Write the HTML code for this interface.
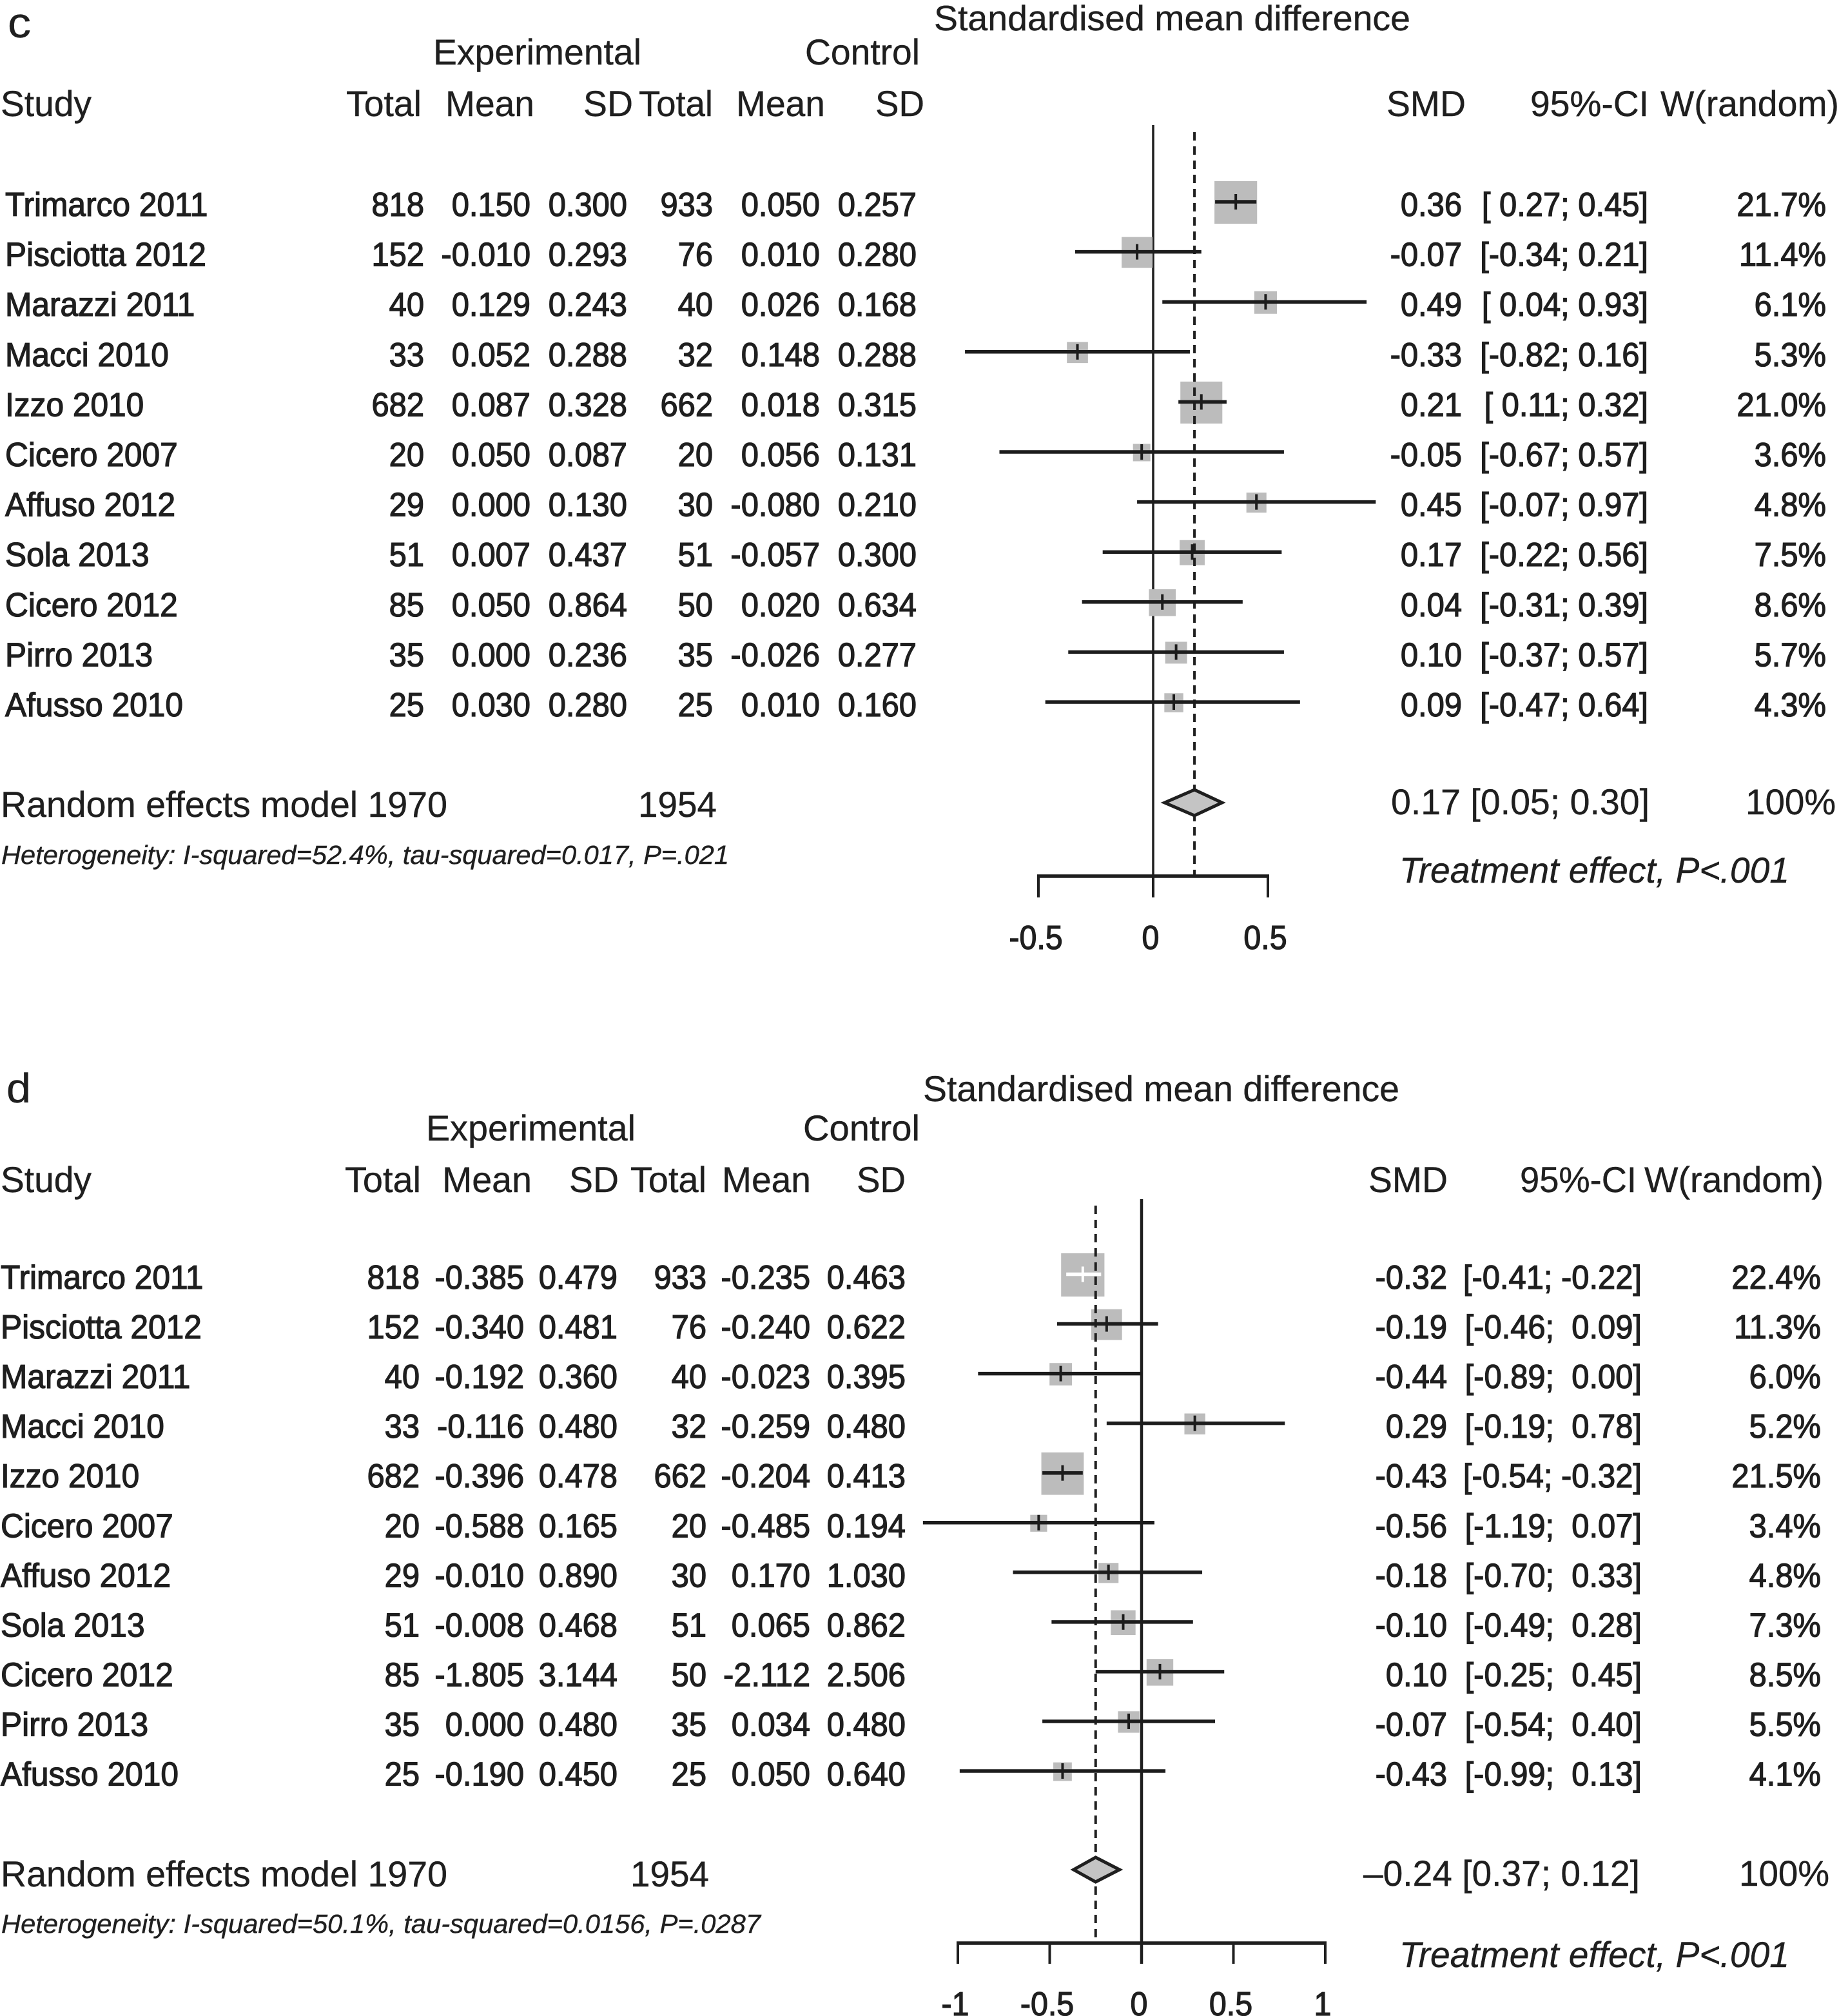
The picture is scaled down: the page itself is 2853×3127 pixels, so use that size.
<!DOCTYPE html>
<html lang="en">
<head>
<meta charset="utf-8">
<title>Forest plots c and d</title>
<style>
html,body{margin:0;padding:0;background:#fff;}
svg{display:block;}
text{font-family:"Liberation Sans",sans-serif;fill:#1f1f1f;white-space:pre;}
</style>
</head>
<body>
<svg id="chart" xmlns="http://www.w3.org/2000/svg" width="2853" height="3127" viewBox="0 0 2853 3127"></svg>
<script>
// Shared categories
const studies = ["Trimarco 2011","Pisciotta 2012","Marazzi 2011","Macci 2010","Izzo 2010","Cicero 2007","Affuso 2012","Sola 2013","Cicero 2012","Pirro 2013","Afusso 2010"];
const expTotals = [818,152,40,33,682,20,29,51,85,35,25];
const ctlTotals = [933,76,40,32,662,20,30,51,50,35,25];

// Panel c values
const cExpMean = ["0.150","-0.010","0.129","0.052","0.087","0.050","0.000","0.007","0.050","0.000","0.030"];
const cExpSd = ["0.300","0.293","0.243","0.288","0.328","0.087","0.130","0.437","0.864","0.236","0.280"];
const cCtlMean = ["0.050","0.010","0.026","0.148","0.018","0.056","-0.080","-0.057","0.020","-0.026","0.010"];
const cCtlSd = ["0.257","0.280","0.168","0.288","0.315","0.131","0.210","0.300","0.634","0.277","0.160"];
const cSmd = [0.36,-0.07,0.49,-0.33,0.21,-0.05,0.45,0.17,0.04,0.10,0.09];
const cLower = [0.27,-0.34,0.04,-0.82,0.11,-0.67,-0.07,-0.22,-0.31,-0.37,-0.47];
const cUpper = [0.45,0.21,0.93,0.16,0.32,0.57,0.97,0.56,0.39,0.57,0.64];
const cWeight = [21.7,11.4,6.1,5.3,21.0,3.6,4.8,7.5,8.6,5.7,4.3];
const cPooled = [0.18,0.05,0.30];
const cTicks = [-0.5,0,0.5];
const cTickLabels = ["-0.5","0","0.5"];

// Panel d values
const dExpMean = ["-0.385","-0.340","-0.192","-0.116","-0.396","-0.588","-0.010","-0.008","-1.805","0.000","-0.190"];
const dExpSd = ["0.479","0.481","0.360","0.480","0.478","0.165","0.890","0.468","3.144","0.480","0.450"];
const dCtlMean = ["-0.235","-0.240","-0.023","-0.259","-0.204","-0.485","0.170","0.065","-2.112","0.034","0.050"];
const dCtlSd = ["0.463","0.622","0.395","0.480","0.413","0.194","1.030","0.862","2.506","0.480","0.640"];
const dSmd = [-0.32,-0.19,-0.44,0.29,-0.43,-0.56,-0.18,-0.10,0.10,-0.07,-0.43];
const dLower = [-0.41,-0.46,-0.89,-0.19,-0.54,-1.19,-0.70,-0.49,-0.25,-0.54,-0.99];
const dUpper = [-0.22,0.09,0.00,0.78,-0.32,0.07,0.33,0.28,0.45,0.40,0.13];
const dWeight = [22.4,11.3,6.0,5.2,21.5,3.4,4.8,7.3,8.5,5.5,4.1];
const dPooled = [-0.25,-0.37,-0.12];
const dTicks = [-1,-0.5,0,0.5,1];
const dTickLabels = ["-1","-0.5","0","0.5","1"];

const NS = "http://www.w3.org/2000/svg";
const root = document.getElementById("chart");
const INK = "#1f1f1f";
const RX = 0.94;

function make(tag, attrs, name, parent) {
  const el = document.createElementNS(NS, tag);
  for (const k in attrs) el.setAttribute(k, attrs[k]);
  
  
  (parent || root).appendChild(el);
  return el;
}
// Fixed-span label: starts at x1 and is fitted to end at x2
function label(g, str, x1, x2, y, size, name, italic) {
  const a = {x:x1, y:y, "font-size":size, textLength:x2-x1, lengthAdjust:"spacingAndGlyphs", stroke:INK, "stroke-width":0.4};
  if (italic) a["font-style"] = "italic";
  const el = make("text", a, name, g);
  el.textContent = str;
  return el;
}
// Table cell: condensed, slightly emboldened, as in the reference
function cell(g, str, x, y, anchor, name, size, sx) {
  const el = make("text", {
    transform:"translate(" + x + " " + y + ") scale(" + (sx || RX) + " 1)",
    "text-anchor":anchor, "font-size":size || 52, stroke:INK, "stroke-width":1.3
  }, name, g);
  el.textContent = str;
  return el;
}
function drawPanel(p) {
  const g = make("g", {}, "panel-" + p.id);
  const X = function (v) { return p.zero + v * p.scale; };
  const Y = function (i) { return p.rowTop + i * p.rowStep; };
  const pad = function (v, list) {
    return (list.some(function (n) { return n < 0; }) && v >= 0 ? " " : "") + v.toFixed(2);
  };

  // Static header labels
  p.labels.forEach(function (l) {
    label(g, l[0], l[1], l[2], l[3], l[4], l[5], l[6]);
  });

  // Reference line and pooled-effect line
  make("line", {x1:X(0), x2:X(0), y1:p.lineTop, y2:p.tickEnd, stroke:INK, "stroke-width":p.zeroWidth}, "no-effect-line", g);

  // Squares first, so that the lines stay on top
  studies.forEach(function (s, i) {
    const size = 14.2 * Math.sqrt(p.weight[i]);
    make("rect", {x:X(p.smd[i]) - size / 2, y:Y(i) + 1 - size / 2, width:size, height:size, fill:"#bcbcbc"}, "study-weight-square", g);
  });
  make("line", {x1:X(p.pooled[0]), x2:X(p.pooled[0]), y1:p.dashTop, y2:p.axisY, stroke:INK, "stroke-width":4, "stroke-dasharray":"13 9"}, "pooled-effect-line", g);

  studies.forEach(function (s, i) {
    const y = Y(i);
    const color = (p.id === "d" && i === 0) ? "#ffffff" : "#1c1c1c";
    make("line", {x1:X(p.lower[i]), x2:X(p.upper[i]), y1:y, y2:y, stroke:color, "stroke-width":5.5}, "confidence-interval", g);
    make("line", {x1:X(p.smd[i]), x2:X(p.smd[i]), y1:y - 12, y2:y + 12, stroke:color, "stroke-width":4}, "effect-estimate-tick", g);

    const b = p.textTop + i * p.rowStep;
    cell(g, s, p.nameX, b, "start", "study-name", 52, 0.955);
    cell(g, String(expTotals[i]), p.cols[0], b, "end", "experimental-total");
    cell(g, p.expMean[i], p.cols[1], b, "end", "experimental-mean");
    cell(g, p.expSd[i], p.cols[2], b, "end", "experimental-sd");
    cell(g, String(ctlTotals[i]), p.cols[3], b, "end", "control-total");
    cell(g, p.ctlMean[i], p.cols[4], b, "end", "control-mean");
    cell(g, p.ctlSd[i], p.cols[5], b, "end", "control-sd");
    cell(g, p.smd[i].toFixed(2), p.cols[6], b, "end", "smd-value");
    cell(g, "[" + pad(p.lower[i], p.lower) + "; " + pad(p.upper[i], p.upper) + "]", p.cols[7], b, "end", "confidence-interval-value");
    cell(g, p.weight[i].toFixed(1) + "%", p.cols[8], b, "end", "weight-value");
  });

  // Pooled diamond
  const cy = p.diamondY;
  const h = p.diamondH;
  const pts = [[X(p.pooled[1]), cy], [X(p.pooled[0]), cy - h], [X(p.pooled[2]), cy], [X(p.pooled[0]), cy + h]];
  make("polygon", {points:pts.map(function (q) { return q.join(","); }).join(" "), fill:"#c4c4c4", stroke:INK, "stroke-width":5}, "pooled-effect-diamond", g);

  // X axis
  make("line", {x1:X(p.ticks[0]) - 2, x2:X(p.ticks[p.ticks.length - 1]) + 2, y1:p.axisY, y2:p.axisY, stroke:INK, "stroke-width":5.5}, "x-axis-line", g);
  p.ticks.forEach(function (t, i) {
    make("line", {x1:X(t), x2:X(t), y1:p.axisY, y2:p.tickEnd, stroke:INK, "stroke-width":4}, "x-axis-tick", g);
    cell(g, p.tickLabels[i], X(t) - 4, p.tickBaseline, "middle", "x-axis-tick-label", 52, 0.93);
  });
}

drawPanel({
  id:"c", zero:1789, scale:356, rowTop:313, rowStep:77.6, textTop:335, nameX:8, zeroWidth:3.5,
  cols:[658,823,973,1106,1272,1422,2268,2557,2833],
  expMean:cExpMean, expSd:cExpSd, ctlMean:cCtlMean, ctlSd:cCtlSd,
  smd:cSmd, lower:cLower, upper:cUpper, weight:cWeight, pooled:cPooled,
  ticks:cTicks, tickLabels:cTickLabels,
  lineTop:194, dashTop:205, axisY:1359, tickEnd:1392, tickBaseline:1472,
  diamondY:1245, diamondH:20,
  labels:[
    ["c",12,48,58,66,"panel-label"],
    ["Standardised mean difference",1449,2188,47,55,"effect-axis-title"],
    ["Experimental",672,995,100,56,"experimental-group-header"],
    ["Control",1249,1427,100,56,"control-group-header"],
    ["Study",1,142,180,56,"study-column-header"],
    ["Total",537,654,180,56,"experimental-total-header"],
    ["Mean",691,829,180,56,"experimental-mean-header"],
    ["SD",905,982,180,56,"experimental-sd-header"],
    ["Total",991,1106,180,56,"control-total-header"],
    ["Mean",1142,1280,180,56,"control-mean-header"],
    ["SD",1358,1434,180,56,"control-sd-header"],
    ["SMD",2151,2274,180,56,"smd-column-header"],
    ["95%-CI",2374,2558,180,56,"ci-column-header"],
    ["W(random)",2576,2853,180,56,"weight-column-header"],
    ["Random effects model 1970",1,694,1267,56,"random-effects-label"],
    ["1954",990,1112,1267,56,"control-total-summary"],
    ["0.17 [0.05; 0.30]",2158,2559,1263,56,"pooled-estimate-value"],
    ["100%",2708,2848,1263,56,"pooled-weight-value"],
    ["Heterogeneity: I-squared=52.4%, tau-squared=0.017, P=.021",2,1131,1340,41,"heterogeneity-note",true],
    ["Treatment effect, P<.001",2171,2776,1369,56,"treatment-effect-note",true]
  ]
});

drawPanel({
  id:"d", zero:1771, scale:285, rowTop:1976.5, rowStep:77.05, textTop:1999, nameX:1, zeroWidth:4.5,
  cols:[651,813,958,1096,1257,1405,2245,2547,2825],
  expMean:dExpMean, expSd:dExpSd, ctlMean:dCtlMean, ctlSd:dCtlSd,
  smd:dSmd, lower:dLower, upper:dUpper, weight:dWeight, pooled:dPooled,
  ticks:dTicks, tickLabels:dTickLabels,
  lineTop:1860, dashTop:1870, axisY:3014, tickEnd:3046, tickBaseline:3126,
  diamondY:2900, diamondH:19,
  labels:[
    ["d",10,48,1710,64,"panel-label"],
    ["Standardised mean difference",1432,2171,1708,56,"effect-axis-title"],
    ["Experimental",661,986,1769,56,"experimental-group-header"],
    ["Control",1246,1427,1769,56,"control-group-header"],
    ["Study",1,142,1849,56,"study-column-header"],
    ["Total",535,653,1849,56,"experimental-total-header"],
    ["Mean",686,825,1849,56,"experimental-mean-header"],
    ["SD",883,960,1849,56,"experimental-sd-header"],
    ["Total",978,1096,1849,56,"control-total-header"],
    ["Mean",1120,1258,1849,56,"control-mean-header"],
    ["SD",1329,1405,1849,56,"control-sd-header"],
    ["SMD",2123,2246,1849,56,"smd-column-header"],
    ["95%-CI",2358,2539,1849,56,"ci-column-header"],
    ["W(random)",2551,2829,1849,56,"weight-column-header"],
    ["Random effects model 1970",1,694,2926,56,"random-effects-label"],
    ["1954",978,1100,2926,56,"control-total-summary"],
    ["\u20130.24 [0.37; 0.12]",2115,2544,2925,56,"pooled-estimate-value"],
    ["100%",2698,2838,2925,56,"pooled-weight-value"],
    ["Heterogeneity: I-squared=50.1%, tau-squared=0.0156, P=.0287",2,1180,2998,41,"heterogeneity-note",true],
    ["Treatment effect, P<.001",2171,2776,3051,56,"treatment-effect-note",true]
  ]
});
</script>
</body>
</html>
